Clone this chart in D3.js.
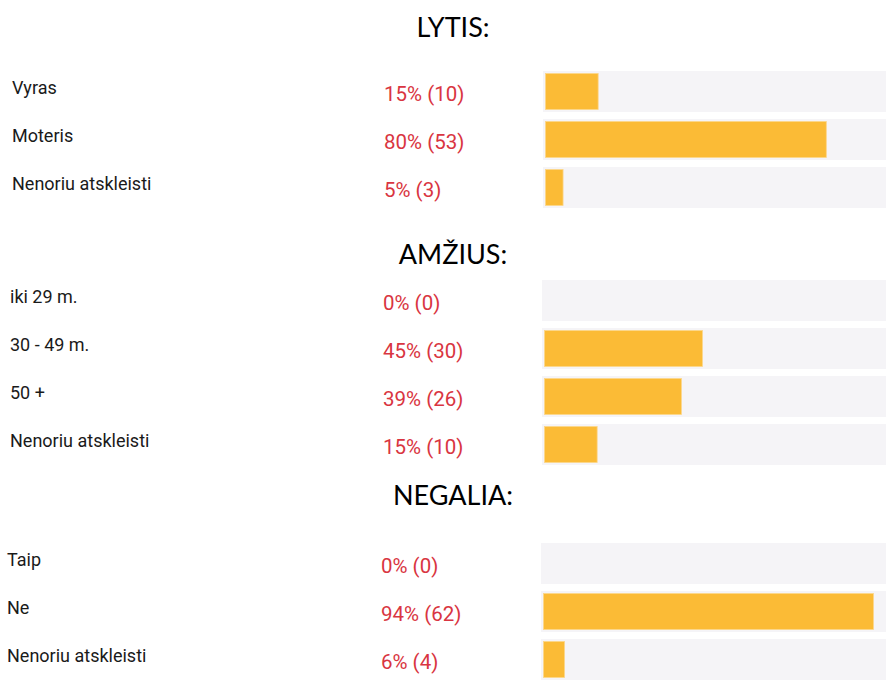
<!DOCTYPE html>
<html><head><meta charset="utf-8">
<script src="https://cdn.jsdelivr.net/npm/d3@7"></script>
<style>html,body{margin:0;padding:0;background:#fff;overflow:hidden}</style>
</head><body>
<script>
// ---- data ----
const sectionTitles = ["LYTIS:", "AMŽIUS:", "NEGALIA:"];
const lytisLabels = ["Vyras", "Moteris", "Nenoriu atskleisti"];
const lytisPct = [15, 80, 5];
const lytisCount = [10, 53, 3];
const amziusLabels = ["iki 29 m.", "30 - 49 m.", "50 +", "Nenoriu atskleisti"];
const amziusPct = [0, 45, 39, 15];
const amziusCount = [0, 30, 26, 10];
const negaliaLabels = ["Taip", "Ne", "Nenoriu atskleisti"];
const negaliaPct = [0, 94, 6];
const negaliaCount = [0, 62, 4];

const W = 886, H = 681;
const svg = d3.select("body").append("svg").attr("width", W).attr("height", H);

const sections = [
  {title: sectionTitles[0], titleY: 37, top: 71, labelX: 12, valueX: 384, trackX: 543,
   labels: lytisLabels, pct: lytisPct, count: lytisCount},
  {title: sectionTitles[1], titleY: 264, top: 280, labelX: 10, valueX: 383, trackX: 542,
   labels: amziusLabels, pct: amziusPct, count: amziusCount},
  {title: sectionTitles[2], titleY: 505, top: 543, labelX: 7, valueX: 381, trackX: 541,
   labels: negaliaLabels, pct: negaliaPct, count: negaliaCount}
];

const rowStep = 48, trackH = 41, inset = 2.5;
const x = d3.scaleLinear().domain([0, 100]).range([0, 351]);

sections.forEach(s => {
  const g = svg.append("g");
  g.append("text").attr("x", 453).attr("y", s.titleY)
    .attr("text-anchor", "middle")
    .style("font-family", "Lato, 'Open Sans', sans-serif")
    .style("font-size", "27px").style("fill", "#000")
    .text(s.title);

  const rows = s.labels.map((l, i) => ({label: l, pct: s.pct[i], count: s.count[i], i}));
  const y = d3.scaleLinear().domain([0, 1]).range([s.top, s.top + rowStep]);

  const r = g.selectAll("g.row").data(rows).join("g").attr("class", "row");
  r.append("rect")
    .attr("x", s.trackX).attr("y", d => y(d.i))
    .attr("width", x(100) + 20).attr("height", trackH)
    .attr("fill", "#f5f4f7");
  r.filter(d => d.pct > 0).append("rect")
    .attr("x", s.trackX + inset).attr("y", d => y(d.i) + inset)
    .attr("width", d => x(d.pct)).attr("height", trackH - 2 * inset)
    .attr("fill", "#fbbb36").attr("stroke", "#fcd68a").attr("stroke-width", 0.8);
  r.append("text")
    .attr("x", s.labelX).attr("y", d => y(d.i) + 23)
    .style("font-family", "Roboto, sans-serif").style("font-size", "18px")
    .style("fill", "#1a1a1a")
    .text(d => d.label);
  r.append("text")
    .attr("x", s.valueX).attr("y", d => y(d.i) + 30)
    .style("font-family", "Roboto, sans-serif").style("font-size", "20.5px")
    .style("fill", "#d93541")
    .text(d => `${d.pct}% (${d.count})`);
});
</script>
</body></html>
